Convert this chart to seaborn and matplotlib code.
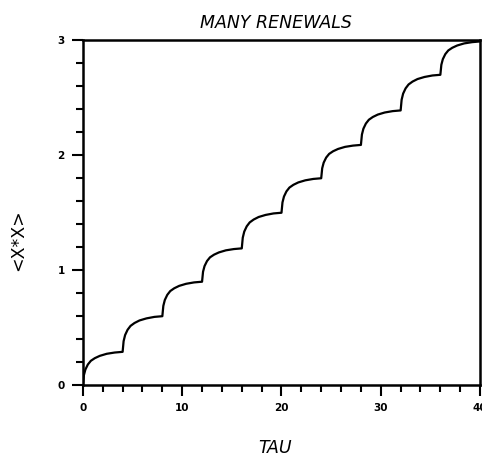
import numpy as np
import pandas as pd
import seaborn as sns
import matplotlib.pyplot as plt
from matplotlib.ticker import MultipleLocator

# curve, one row per renewal period
tau = [
    0, 0.1, 0.25, 0.5, 0.8, 1.2, 1.7, 2.4, 3.2,
    4, 4.1, 4.25, 4.5, 4.8, 5.2, 5.7, 6.4, 7.2,
    8, 8.1, 8.25, 8.5, 8.8, 9.2, 9.7, 10.4, 11.2,
    12, 12.1, 12.25, 12.5, 12.8, 13.2, 13.7, 14.4, 15.2,
    16, 16.1, 16.25, 16.5, 16.8, 17.2, 17.7, 18.4, 19.2,
    20, 20.1, 20.25, 20.5, 20.8, 21.2, 21.7, 22.4, 23.2,
    24, 24.1, 24.25, 24.5, 24.8, 25.2, 25.7, 26.4, 27.2,
    28, 28.1, 28.25, 28.5, 28.8, 29.2, 29.7, 30.4, 31.2,
    32, 32.1, 32.25, 32.5, 32.8, 33.2, 33.7, 34.4, 35.2,
    36, 36.1, 36.25, 36.5, 36.8, 37.2, 37.7, 38.4, 39.2,
    40,
]
xx = [
    0.00, 0.087, 0.136, 0.180, 0.212, 0.235, 0.255, 0.273, 0.284,
    0.29, 0.383, 0.436, 0.482, 0.516, 0.541, 0.563, 0.581, 0.594,
    0.60, 0.690, 0.741, 0.786, 0.819, 0.843, 0.864, 0.882, 0.894,
    0.90, 0.987, 1.036, 1.080, 1.112, 1.135, 1.155, 1.173, 1.184,
    1.19, 1.283, 1.336, 1.382, 1.416, 1.441, 1.463, 1.481, 1.494,
    1.50, 1.590, 1.641, 1.686, 1.719, 1.743, 1.764, 1.782, 1.794,
    1.80, 1.887, 1.936, 1.980, 2.012, 2.035, 2.055, 2.073, 2.084,
    2.09, 2.180, 2.231, 2.276, 2.309, 2.333, 2.354, 2.372, 2.384,
    2.39, 2.483, 2.536, 2.582, 2.616, 2.641, 2.663, 2.681, 2.694,
    2.70, 2.787, 2.836, 2.880, 2.912, 2.935, 2.955, 2.973, 2.984,
    2.99,
]
x_ticks = [0, 10, 20, 30, 40]
y_ticks = [0, 1, 2, 3]

df = pd.DataFrame({"TAU": tau, "XX": xx})

sns.set_style("ticks")
plt.rcParams["font.family"] = ["DejaVu Sans"]
plt.rcParams["text.color"] = "black"

fig = plt.figure(figsize=(4.82, 4.58), dpi=100)
ax = fig.add_axes([0.172, 0.159, 0.824, 0.753])

sns.lineplot(data=df, x="TAU", y="XX", color="black", linewidth=1.6, ax=ax)

ax.set_xlim(0, 40)
ax.set_ylim(0, 3)
ax.set_xticks(x_ticks)
ax.set_yticks(y_ticks)
ax.set_xticklabels([str(t) for t in x_ticks], fontsize=7.5, fontweight="bold", color="black")
ax.set_yticklabels([str(t) for t in y_ticks], fontsize=7.5, fontweight="bold", color="black")
ax.xaxis.set_minor_locator(MultipleLocator(2))
ax.yaxis.set_minor_locator(MultipleLocator(0.2))
ax.tick_params(which="major", direction="out", length=8, width=1.5, color="black", pad=5)
ax.tick_params(which="minor", direction="out", length=5, width=1.5, color="black")

for s in ax.spines.values():
    s.set_visible(True)
    s.set_linewidth(1.8)
    s.set_color("black")

ax.set_xlabel("TAU", fontsize=12.5, fontstyle="italic", color="black")
ax.xaxis.set_label_coords(0.483, -0.155)
ax.set_ylabel("<X*X>", fontsize=12.5, color="black")
ax.yaxis.set_label_coords(-0.14, 0.42)
ax.set_title("MANY RENEWALS", fontsize=12.5, fontstyle="italic", color="black", pad=9, x=0.485)

fig.savefig("out.png", dpi=100)
